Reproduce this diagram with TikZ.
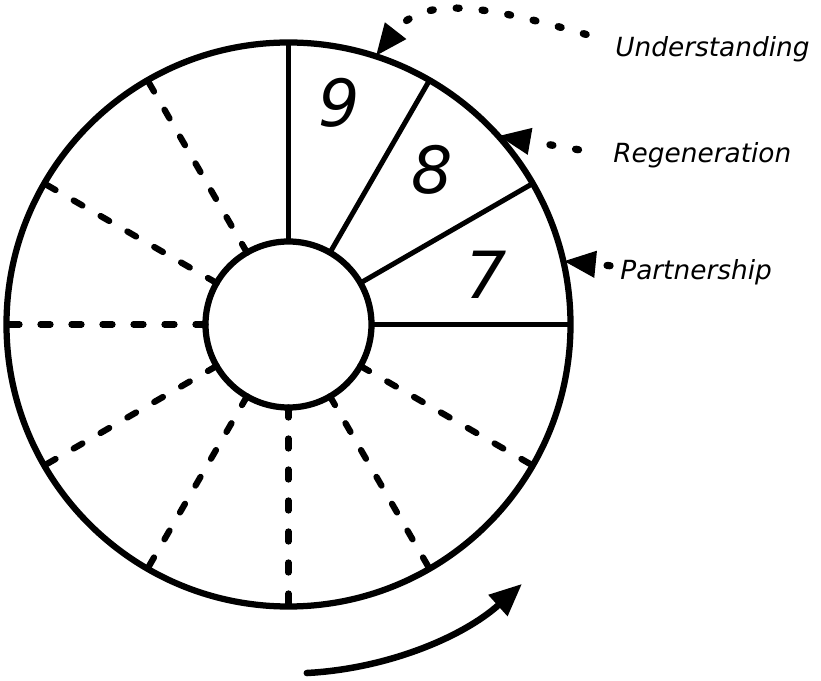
\documentclass[tikz,border=0pt]{standalone}
\usepackage{fontspec}
\setmainfont{DejaVu Sans}
\usetikzlibrary{arrows.meta}

\begin{document}
\begin{tikzpicture}[x=0.2mm, y=0.2mm,
    ring/.style={circle, draw, line width=1.25mm, inner sep=0pt, outer sep=0pt},
    spoke/.style={line width=1mm},
    dspoke/.style={line width=1.25mm, line cap=round, dash pattern=on 2mm off 4.2mm},
    lbl/.style={anchor=base west, inner sep=0pt, font=\fontsize{15}{18}\selectfont\itshape},
    num/.style={inner sep=0pt, font=\fontsize{37}{40}\selectfont\itshape},
    ptr/.style={line width=1.45mm, line cap=round, dash pattern=on 0.6mm off 4.6mm,
      -{Triangle[length=6.5mm, width=5mm]}},
    flow/.style={line width=1.3mm, line cap=round, -{Triangle[length=6.5mm, width=5.4mm]}}]
  \useasboundingbox (-288.5,-356.5) rectangle (532.5,324.5);

  % wheel
  \node[ring, minimum size=112.8mm] (rim) at (0,0) {};
  \node[ring, minimum size=33.2mm] (hub) at (0,0) {};
  \foreach \a in {0,30,60,90}
    \draw[spoke] (hub.\a) -- (rim.\a);
  \foreach \a in {120,150,...,330}
    \draw[dspoke] (hub.\a) -- (rim.\a);

  % stages
  \foreach \n/\ang/\rad in {9/77/227, 8/47/211, 7/14/204}
    \node[num] (n\n) at (\ang:\rad) {\n};

  % labels
  \node[lbl] (und) at (326.5,267.5) {Understanding};
  \node[lbl] (reg) at (324.5,161.5) {Regeneration};
  \node[lbl] (par) at (331.5,44.5) {Partnership};

  \draw[ptr, shorten <=6mm] ([yshift=1.4mm]und.west)
    .. controls (195,319.5) and (135,329.5) .. (rim.72);
  \draw[ptr, shorten <=7mm] (reg.west) -- (rim.42);
  \draw[ptr, shorten <=2mm] ([yshift=1.2mm]par.west) -- (rim.13);

  % direction of turn
  \draw[flow] (-87:349) arc[start angle=-87, end angle=-48, radius=349];
\end{tikzpicture}
\end{document}
